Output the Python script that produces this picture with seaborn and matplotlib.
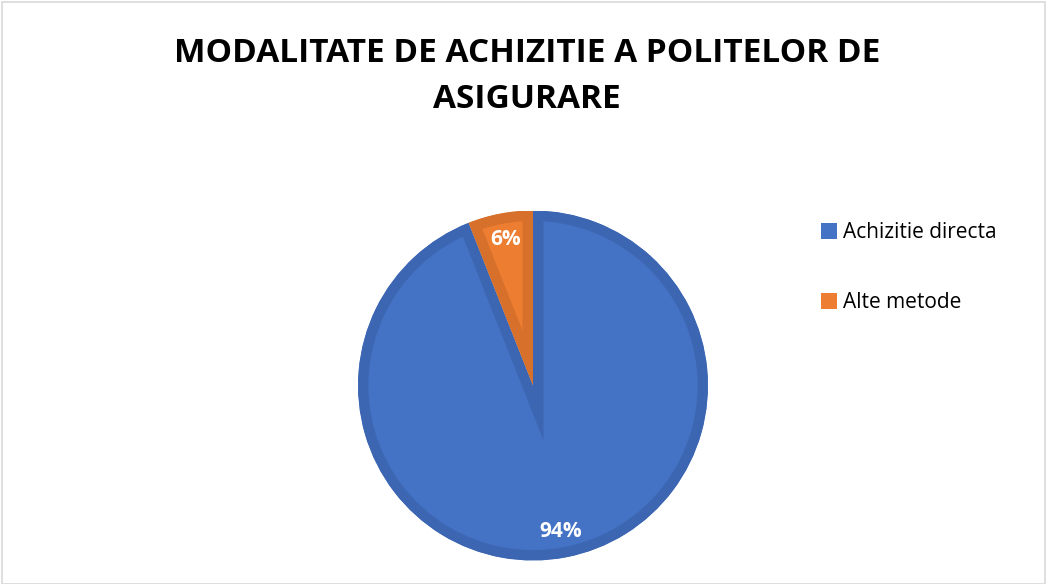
import matplotlib
matplotlib.use("Agg")
import matplotlib.pyplot as plt
import seaborn as sns
from matplotlib.patches import Rectangle

categories = ["Achizitie directa", "Alte metode"]
values = [94, 6]

sns.set_theme(style="white")
plt.rcParams['font.family'] = ['Open Sans', 'DejaVu Sans']

fill_colors = ["#4472C4", "#ED7D31"]
edge_colors = ["#3D66B2", "#D6702B"]

W, H = 1047, 584
fig = plt.figure(figsize=(W / 100, H / 100), dpi=100)
fig.patch.set_facecolor("white")
fig.add_artist(Rectangle((2 / W, 0), 1 - 4 / W, 1 - 2 / H, transform=fig.transFigure,
                         fill=False, edgecolor="#D9D9D9", linewidth=1.2))

cx, cy, r = 533, 385.5, 175
ax = fig.add_axes([(cx - r) / W, (H - cy - r) / H, 2 * r / W, 2 * r / H])
wedges, texts, autotexts = ax.pie(values, colors=fill_colors, startangle=90, counterclock=False,
                                  autopct=lambda p: f"{p:.0f}%", pctdistance=0.85,
                                  radius=1, wedgeprops=dict(linewidth=15))
for w, ec in zip(wedges, edge_colors):
    w.set_edgecolor(ec)
    w.set_clip_path(w)
    w.set_clip_on(True)
for t in autotexts:
    t.set_color("white")
    t.set_fontsize(15)
    t.set_fontweight("bold")
ax.set_xlim(-1, 1)
ax.set_ylim(-1, 1)
ax.set_aspect("equal")
ax.axis("off")

fig.text(527 / W, 1 - 54 / H, "MODALITATE DE ACHIZITIE A POLITELOR DE", ha="center", va="center",
         fontsize=24, fontweight="bold", color="black")
fig.text(527 / W, 1 - 99 / H, "ASIGURARE", ha="center", va="center",
         fontsize=24, fontweight="bold", color="black")

handles = [Rectangle((0, 0), 1, 1, facecolor=c, edgecolor="none") for c in fill_colors]
fig.legend(handles, categories, loc="upper left", bbox_to_anchor=(813 / W, 1 - 214 / H),
           frameon=False, fontsize=15, labelspacing=2.35, handlelength=0.75, handleheight=0.75,
           handletextpad=0.3, borderaxespad=0, labelcolor="black")

fig.savefig("out.png", dpi=100, facecolor="white")
